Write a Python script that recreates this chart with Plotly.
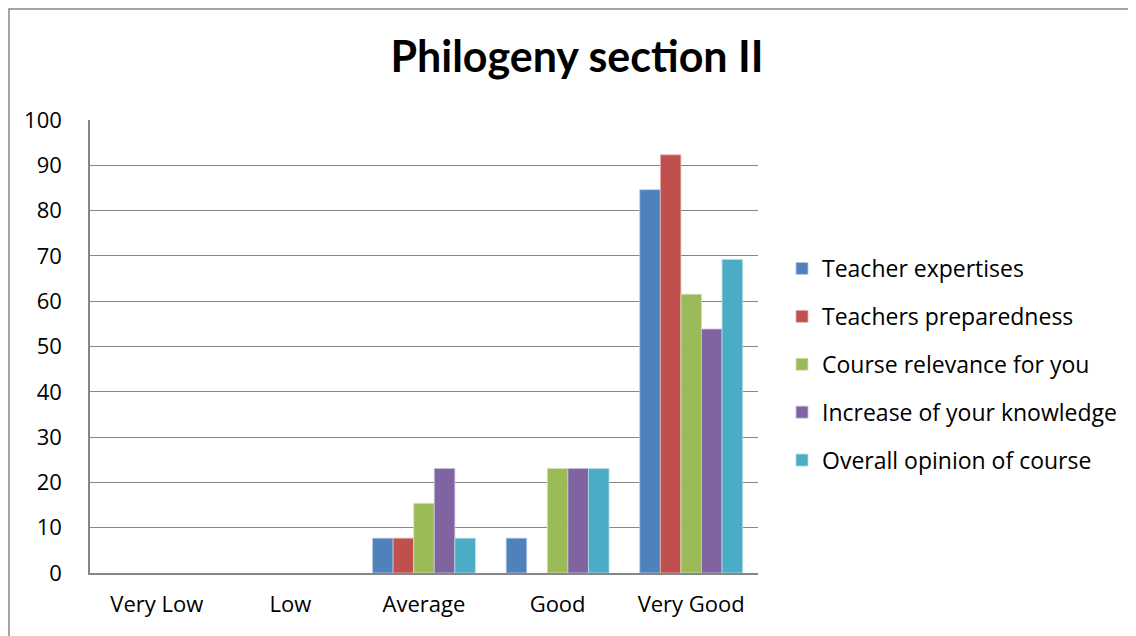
import plotly.graph_objects as go

categories = ["Very Low", "Low", "Average", "Good", "Very Good"]
series_names = ["Teacher expertises", "Teachers preparedness", "Course relevance for you",
                "Increase of your knowledge", "Overall opinion of course"]
teacher_expertises = [0, 0, 7.69, 7.69, 84.62]
teachers_preparedness = [0, 0, 7.69, 0, 92.31]
course_relevance = [0, 0, 15.38, 23.08, 61.54]
increase_knowledge = [0, 0, 23.08, 23.08, 53.85]
overall_opinion = [0, 0, 7.69, 23.08, 69.23]
y_ticks = [0, 10, 20, 30, 40, 50, 60, 70, 80, 90, 100]

colors = ["#4F81BD", "#C0504D", "#9BBB59", "#8064A2", "#4BACC6"]
outlines = ["#B9CDE5", "#E6B9B8", "#D7E4BD", "#CCC1DA", "#B7DEE8"]
values = [teacher_expertises, teachers_preparedness, course_relevance,
          increase_knowledge, overall_opinion]

FONT = "Open Sans"
fig = go.Figure()
for i, (name, vals) in enumerate(zip(series_names, values)):
    fig.add_trace(go.Bar(
        x=categories, y=[v if v else None for v in vals], name=name,
        marker=dict(color=colors[i], line=dict(color=outlines[i], width=0.8)),
        legendgroup=f"g{i}",
    ))

# page has an 8px body margin; plot area target (page coords): x 90..758, y 120..573
OFF = 8
W, H = 1136, 636
PL, PT, PW, PH = 90, 120, 668, 453
L, T = PL - OFF, PT - OFF
R = W - L - PW
B = H - T - PH

def px(x):
    return (x - PL) / PW

def py(y):
    return (PT + PH - y) / PH

fig.update_layout(
    width=W, height=H,
    margin=dict(l=L, r=R, t=T, b=B),
    paper_bgcolor="white", plot_bgcolor="white",
    barmode="group", bargap=0.23, bargroupgap=0,
    font=dict(family=FONT, size=20, color="black"),
    title=dict(text="<b>Philogeny section II</b>", x=(577 - OFF) / W, xref="container",
               xanchor="center", y=1 - (57 - OFF) / H, yref="container", yanchor="middle",
               font=dict(family="Lato", size=43, color="black")),
    showlegend=True,
    legend=dict(x=px(782), xanchor="left", y=py(247), yanchor="top",
                font=dict(family=FONT, size=23, color="black"),
                tracegroupgap=15, bgcolor="rgba(0,0,0,0)", itemwidth=30),
    xaxis=dict(showgrid=False, showline=True, linecolor="#868686", linewidth=1.5,
               ticks="", ticklabelstandoff=11, tickfont=dict(size=22)),
    yaxis=dict(range=[0, 100], tickvals=y_ticks, showgrid=True, gridcolor="#868686",
               gridwidth=1.3, showline=True, linecolor="#868686", linewidth=1.5,
               zeroline=False, ticks="", ticklabelstandoff=22, tickfont=dict(size=22)),
    shapes=[dict(type="rect", xref="paper", yref="paper",
                 x0=px(9), x1=px(W + 30), y0=py(H + 30), y1=py(9),
                 line=dict(color="#868686", width=1.5), fillcolor="rgba(0,0,0,0)",
                 layer="below")],
)

fig.write_html("out.html")
